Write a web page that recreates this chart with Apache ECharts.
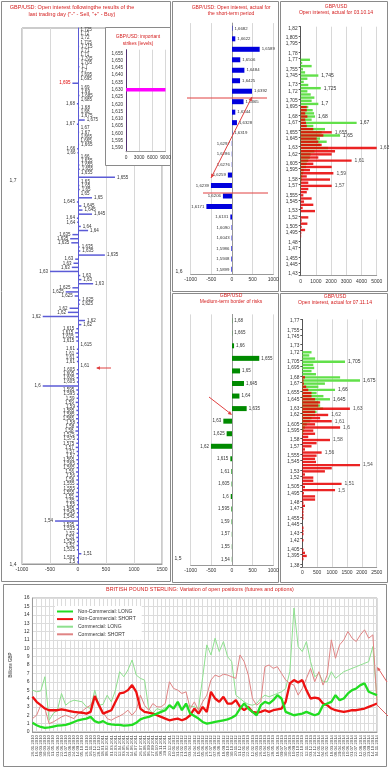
<!DOCTYPE html>
<html><head><meta charset="utf-8">
<script src="https://cdn.jsdelivr.net/npm/echarts/dist/echarts.min.js"></script>
<style>html,body{margin:0;padding:0;background:#fff}#c{width:389px;height:768px}</style>
</head><body><div id="c"></div>
<script>
// ---------- Panel 1: open interest after last trading day ----------
const p1Levels = [
'1,725','1,72','1,72','1,715','1,715','1,71','1,71','1,705','1,705','1,7',
'1,7','1,695','1,695','1,695','1,69','1,69','1,685','1,685','1,68','1,68',
'1,68','1,675','1,675','1,67','1,67','1,67','1,665','1,665','1,665','1,66',
'1,66','1,66','1,655','1,655','1,655','1,655','1,655','1,65','1,65','1,65',
'1,65','1,65','1,645','1,645','1,645','1,645','1,64','1,64','1,64','1,64',
'1,635','1,635','1,635','1,635','1,635','1,635','1,63','1,63','1,63','1,63',
'1,63','1,63','1,63','1,625','1,625','1,625','1,625','1,625','1,62','1,62',
'1,62','1,62','1,62','1,615','1,615','1,615','1,615','1,615','1,61','1,61',
'1,61','1,61','1,61','1,605','1,605','1,605','1,605','1,6','1,595','1,595',
'1,59','1,59','1,59','1,585','1,585','1,585','1,58','1,58','1,58','1,575',
'1,575','1,575','1,57','1,57','1,57','1,565','1,565','1,565','1,56','1,56',
'1,56','1,555','1,555','1,555','1,55','1,55','1,55','1,545','1,545','1,545',
'1,54','1,535','1,535','1,53','1,53','1,525','1,52','1,515','1,51','1,505',
'1,5'];
const p1Values = [
10,10,15,10,20,15,10,20,15,25,
20,15,10,-100,15,20,25,15,-20,20,
15,20,120,-20,15,20,15,10,20,-15,
-10,15,20,25,30,20,660,20,25,30,
15,250,-20,60,80,250,-20,-15,50,180,
-100,-140,-120,30,40,480,-50,-80,-110,-500,
40,60,270,-100,-220,-60,40,30,-150,-180,
-630,125,60,-30,-50,-40,-30,10,-20,-30,
-25,-20,10,-20,-30,-25,-20,-630,-30,-20,
-25,-40,-20,-30,-25,-35,-20,-30,-45,-25,
-20,-30,-40,-25,-20,-30,-20,-25,-35,-20,
-30,-25,-20,-30,-40,-25,-20,-30,-20,-25,
-410,-30,-20,-25,-30,-20,-25,-20,60,-20,
-15];
const p1RedLabelIdx = [13];
const p1SideLabels = ['1,7','1,4'];

// ---------- Inset: important strikes ----------
const insetLevels = ['1,655','1,650','1,645','1,640','1,635','1,630','1,625','1,620','1,615','1,610','1,605','1,600','1,595','1,590'];
const insetValues = [0,0,0,0,0,9000,0,0,0,0,0,0,0,0];

// ---------- Panel 2: short-term ----------
const p2Levels = ['1,6682','1,6622','1,6589','1,6506','1,6484','1,6425','1,6392','1,6365','1,6344','1,6328','1,6319','1,6297','1,6286','1,6276','1,6259','1,6239','1,6206','1,6171','1,6131','1,6090','1,6043','1,5986','1,5948','1,5899'];
const p2Values = [10,80,670,200,300,195,485,280,80,120,5,-5,-5,-5,-100,-510,-220,-620,-40,-10,-10,-15,-15,-15];

// ---------- Panel 3: open interest 03.10.14 ----------
const p3Levels = [
'1,82','1,815','1,81','1,805','1,8','1,795','1,79','1,785','1,78','1,775',
'1,77','1,765','1,76','1,755','1,75','1,745','1,74','1,735','1,73','1,725',
'1,72','1,715','1,71','1,705','1,7','1,695','1,69','1,685','1,68','1,675',
'1,67','1,665','1,66','1,655','1,65','1,645','1,64','1,635','1,63','1,625',
'1,62','1,615','1,61','1,605','1,6','1,595','1,59','1,585','1,58','1,575',
'1,57','1,565','1,56','1,555','1,55','1,545','1,54','1,535','1,53','1,525',
'1,52','1,515','1,51','1,505','1,5','1,495','1,49','1,485','1,48','1,475',
'1,47','1,465','1,46','1,455','1,45','1,445','1,44','1,435','1,43'];
const p3Calls = [
0,0,0,0,0,0,0,0,0,0,
610,100,720,150,290,1160,440,200,500,1320,
440,660,900,720,1160,500,790,880,940,720,
3680,830,1600,1380,2590,1270,1710,1270,1800,900,
650,600,500,400,350,200,150,100,80,40,
30,20,0,0,0,0,0,0,0,0,
0,0,0,0,0,0,0,0,0,0,
0,0,0,0,0,0,0,0,0];
const p3Puts = [
0,0,0,0,0,0,0,0,0,0,
0,0,0,0,0,0,0,0,0,0,
0,0,0,0,0,400,400,300,440,300,
350,400,830,2040,1490,1050,1160,1380,5000,2260,
2040,1160,3350,830,2040,610,2150,400,1930,500,
2040,500,400,175,720,220,830,130,940,0,
500,65,440,65,290,40,30,0,0,0,
0,0,0,0,0,0,0,0,0];
const p3Ticks = ['1,82','1,805','1,795','1,78','1,77','1,755','1,745','1,73','1,72','1,705','1,695','1,68','1,67','1,655','1,645','1,63','1,62','1,605','1,595','1,58','1,57','1,555','1,545','1,53','1,52','1,505','1,495','1,48','1,47','1,455','1,445','1,43'];
const p3CallLabels = ['1,745','1,725','1,7','1,68','1,67','1,65'];
const p3PutLabels = ['1,655','1,63','1,61','1,59','1,57'];

// ---------- Panel 5: medium-term border of risks ----------
const p5Levels = ['1,68','1,665','1,66','1,655','1,65','1,645','1,64','1,635','1,63','1,625','1,62','1,615','1,61','1,605','1,6','1,595','1,59','1,57','1,55','1,54'];
const p5Values = [5,5,50,660,195,290,180,355,-210,-130,-510,-40,-15,-10,-30,-15,-10,-5,-5,-5];

// ---------- Panel 4: open interest 07.11.14 ----------
const p4Levels = [
'1,77','1,765','1,76','1,755','1,75','1,745','1,74','1,735','1,73','1,725',
'1,72','1,715','1,71','1,705','1,7','1,695','1,69','1,685','1,68','1,675',
'1,67','1,665','1,66','1,655','1,65','1,645','1,64','1,635','1,63','1,625',
'1,62','1,615','1,61','1,605','1,6','1,595','1,59','1,585','1,58','1,575',
'1,57','1,565','1,56','1,555','1,55','1,545','1,54','1,535','1,53','1,525',
'1,52','1,515','1,51','1,505','1,5','1,495','1,49','1,485','1,48','1,475',
'1,47','1,465','1,46','1,455','1,45','1,445','1,44','1,435','1,43','1,425',
'1,42','1,415','1,41','1,405','1,4','1,395','1,39','1,385','1,38'];
const p4Calls = [
0,0,0,0,0,0,0,0,0,0,
310,235,430,1435,370,400,310,460,1270,1940,
760,540,1100,480,710,930,540,600,700,480,
430,310,260,150,90,60,30,0,0,0,
0,0,0,0,0,0,0,0,0,0,
0,0,0,0,0,0,0,0,0,0,
0,0,0,0,0,0,0,0,0,0,
0,0,0,0,0,0,0,0,0];
const p4Puts = [
0,0,0,0,0,0,0,0,0,0,
0,0,0,0,0,0,0,0,90,40,
55,130,200,310,310,430,600,540,1600,430,
870,600,990,430,1270,370,430,200,930,480,
310,90,650,480,430,460,1940,990,760,90,
370,370,1320,90,1100,55,430,430,40,90,
40,40,40,40,0,0,40,40,40,0,
40,0,0,40,90,150,40,0,0];
const p4Ticks = ['1,77','1,755','1,745','1,73','1,72','1,705','1,695','1,68','1,67','1,655','1,645','1,63','1,62','1,605','1,595','1,58','1,57','1,555','1,545','1,53','1,52','1,505','1,495','1,48','1,47','1,455','1,445','1,43','1,42','1,405','1,395','1,38'];
const p4CallLabels = ['1,705','1,675','1,66','1,645'];
const p4PutLabels = ['1,63','1,62','1,61','1,6','1,58','1,56','1,54','1,51','1,5'];

// ---------- Bottom: COT positions ----------
const cotDates = [
'26.01.2010','16.02.2010','09.03.2010','30.03.2010','20.04.2010','11.05.2010','01.06.2010','22.06.2010','13.07.2010','03.08.2010',
'24.08.2010','14.09.2010','05.10.2010','26.10.2010','16.11.2010','07.12.2010','28.12.2010','18.01.2011','08.02.2011','01.03.2011',
'22.03.2011','12.04.2011','03.05.2011','24.05.2011','14.06.2011','05.07.2011','26.07.2011','16.08.2011','06.09.2011','27.09.2011',
'18.10.2011','08.11.2011','29.11.2011','20.12.2011','10.01.2012','31.01.2012','21.02.2012','13.03.2012','03.04.2012','24.04.2012',
'15.05.2012','05.06.2012','26.06.2012','17.07.2012','07.08.2012','28.08.2012','18.09.2012','09.10.2012','30.10.2012','20.11.2012',
'11.12.2012','01.01.2013','22.01.2013','12.02.2013','05.03.2013','26.03.2013','16.04.2013','07.05.2013','28.05.2013','18.06.2013',
'09.07.2013','30.07.2013','20.08.2013','10.09.2013','01.10.2013','22.10.2013','12.11.2013','03.12.2013','24.12.2013','14.01.2014',
'04.02.2014','25.02.2014','18.03.2014','08.04.2014','29.04.2014','20.05.2014','10.06.2014','01.07.2014','22.07.2014','12.08.2014',
'02.09.2014','23.09.2014','14.10.2014','04.11.2014'];
const ncLong = [
1.1,0.8,0.6,0.5,0.55,0.65,0.75,0.8,0.85,1.0,
1.2,1.4,1.5,1.6,1.8,1.3,1.1,1.3,1.0,0.9,
0.85,0.85,0.75,0.8,0.85,1.1,1.5,1.7,1.8,2.0,
2.2,2.4,2.6,3.2,2.8,3.6,2.6,3.4,2.2,1.9,
1.6,1.2,1.0,1.1,1.2,1.3,1.4,1.5,1.7,2.0,
2.8,3.4,2.8,2.4,2.0,3.2,3.6,3.4,3.8,4.4,
4.0,2.4,2.2,2.0,2.1,2.2,2.4,2.2,2.0,2.2,
3.2,3.4,3.6,4.4,3.8,4.0,4.6,5.0,5.2,5.6,
5.8,4.8,4.6,4.4];
const ncShort = [
4.2,3.6,3.2,2.8,2.6,2.6,2.6,2.7,2.6,2.5,
2.4,2.35,2.3,2.2,2.4,4.3,3.2,2.2,2.4,2.6,
3.6,4.6,4.7,5.0,5.6,4.8,2.8,2.4,2.3,2.2,
2.0,1.8,1.6,1.4,1.5,1.6,1.4,1.6,2.0,2.8,
2.2,3.0,2.4,4.8,4.0,3.6,4.2,3.4,3.4,3.8,
3.0,2.6,3.0,2.4,2.3,2.4,2.6,2.4,2.6,2.7,
2.8,3.6,5.8,6.2,5.9,6.2,5.0,4.0,4.1,4.0,
3.4,3.2,2.8,2.6,2.5,2.4,2.5,2.6,2.6,2.7,
2.8,3.0,3.2,3.4];
const cLong = [
5.0,4.8,4.9,6.6,1.4,2.2,2.6,4.6,3.2,3.6,
3.8,3.7,3.6,3.0,2.8,5.0,3.2,3.3,4.4,3.6,
5.0,7.2,6.6,7.4,8.6,6.8,6.4,6.2,2.8,2.2,
2.8,2.6,2.9,3.0,2.9,3.2,2.8,3.1,3.1,3.0,
2.8,6.5,10.4,9.2,11.2,9.6,10.8,9.0,8.4,4.4,
4.0,3.6,3.3,3.2,3.4,4.0,4.4,4.2,4.4,4.6,
4.8,5.2,7.2,14.8,10.2,9.6,10.8,8.4,6.6,7.0,
6.0,6.0,7.2,6.4,6.8,7.2,7.4,7.6,7.8,8.0,
8.2,8.4,10.2,3.8];
const cShort = [
1.6,2.0,3.2,2.8,1.0,1.2,1.5,1.8,2.0,1.8,
1.6,2.2,2.5,2.9,3.2,4.0,3.4,2.4,1.6,1.4,
1.7,1.9,2.2,2.6,2.0,2.6,4.4,3.2,2.6,3.4,
3.0,3.0,3.4,6.0,5.2,5.0,4.6,4.8,2.8,3.6,
2.6,3.6,4.4,6.2,6.8,6.6,6.9,6.8,6.6,6.4,
9.2,8.4,6.8,4.0,3.2,3.6,7.8,8.0,7.6,7.8,
7.0,6.2,5.8,5.6,4.4,5.2,6.4,7.6,6.0,7.2,
5.6,6.8,11.0,8.8,10.4,11.0,12.0,11.2,10.8,11.6,
12.2,11.2,11.6,3.4];

// ---------- build ----------
const FONT = 'Liberation Sans, Arial, sans-serif';
const RED = '#d42020';
const numFmt = v => String(v);

function signedBars(values, labels, fs, redIdx) {
  return values.map((v, i) => ({
    value: v,
    label: { show: true, position: v < 0 ? 'left' : 'right', formatter: labels[i], fontSize: fs,
             color: (redIdx && redIdx.includes(i)) ? '#e00000' : '#333', distance: 2 }
  }));
}
function pickBars(values, levels, set, fs) {
  return values.map((v, i) => ({
    value: v,
    label: { show: set.includes(levels[i]), position: 'right', formatter: levels[i], fontSize: fs, color: '#333', distance: 3 }
  }));
}
function valueX(grid, min, max, interval, extra) {
  return Object.assign({
    type: 'value', gridIndex: grid, min, max, interval,
    axisLabel: { fontSize: 5, color: '#333', formatter: numFmt, margin: 3 },
    axisLine: { show: true, lineStyle: { color: '#999' } },
    axisTick: { show: false },
    splitLine: { show: true, lineStyle: { color: '#d8d8d8', width: 1 } }
  }, extra || {});
}
function hiddenCat(grid, data, color) {
  return {
    type: 'category', gridIndex: grid, data, inverse: true,
    axisLabel: { show: false }, axisTick: { show: false },
    axisLine: { show: true, onZero: true, lineStyle: { color } }
  };
}
function tickCat(grid, data, ticks) {
  const f = (i, v) => ticks.includes(v);
  return {
    type: 'category', gridIndex: grid, data, inverse: true,
    axisLabel: { fontSize: 4.8, color: '#333', interval: f, margin: 3 },
    axisTick: { show: true, interval: f, length: 2, lineStyle: { color: '#555' } },
    axisLine: { show: true, lineStyle: { color: '#555' } }
  };
}

const p1Idx = p1Values.map((v, i) => String(i));

function txt(x, y, text, fs, fill, align, z) {
  return { type: 'text', x, y, z: z || 6,
    style: { text, fontSize: fs, fontFamily: FONT, fill: fill || '#333', align: align || 'center', verticalAlign: 'middle', lineHeight: fs * 1.35 } };
}
function frame(x, y, w, h, fill, z) {
  return { type: 'rect', z: z || 0, shape: { x: x + 0.5, y: y + 0.5, width: w, height: h },
    style: { fill: fill || 'none', stroke: '#8a8a8a', lineWidth: 1 } };
}
function seg(x1, y1, x2, y2, color, w) {
  return { type: 'line', z: 10, shape: { x1, y1, x2, y2 }, style: { stroke: color, lineWidth: w || 1 } };
}
function head(x1, y1, x2, y2, color, h) {
  const a = Math.atan2(y2 - y1, x2 - x1);
  const bx = x2 - h * Math.cos(a), by = y2 - h * Math.sin(a);
  const ox = h * 0.45 * Math.sin(a), oy = -h * 0.45 * Math.cos(a);
  return { type: 'polygon', z: 10, shape: { points: [[x2, y2], [bx + ox, by + oy], [bx - ox, by - oy]] }, style: { fill: color } };
}

const graphics = [
  frame(1, 1, 169, 580), frame(172, 1, 106, 290), frame(280, 1, 107, 290),
  frame(172, 293, 106, 289), frame(280, 293, 107, 289), frame(3, 584, 383, 182),
  frame(105, 27, 65, 138, '#fff', 1),
  txt(72, 11, 'GBP/USD: Open interest followingthe results of the\nlast trading day ("-" - Sell, "+" - Buy)', 5.5, RED),
  txt(138, 40, 'GBP/USD: important\nstrikes (levels)', 4.8, RED, 'center', 7),
  txt(231, 10.5, 'GBP/USD: Open interest, actual for\nthe short-term period', 5, RED),
  txt(336, 9.5, 'GBP/USD\nOpen interest, actual for 03.10.14', 5, RED),
  txt(231, 298.5, 'GBP/USD\nMedium-term border of risks', 5, RED),
  txt(335, 299.5, 'GBP/USD\nOpen interest, actual for 07.11.14', 5, RED),
  txt(200, 590, 'BRITISH POUND STERLING: Variation of open positions (futures and options)', 5.4, RED),
  txt(13, 181, p1SideLabels[0], 5), txt(13, 565, p1SideLabels[1], 5),
  txt(179, 272, '1,6', 5), txt(178, 559, '1,5', 5),
  seg(187, 98, 267, 98, '#e04040'), seg(203, 193, 268, 193, '#e04040'),
  seg(211, 178, 252, 97, '#e04040'), head(211, 178, 252, 97, '#e04040', 4), head(252, 97, 211, 178, '#e04040', 4),
  seg(111, 368, 97, 368, '#e04040'), head(111, 368, 96, 368, '#e04040', 4),
  seg(209, 397, 231, 414, '#e04040'), head(209, 397, 232, 415, '#e04040', 4),
  seg(387, 682, 378, 668, '#e06060'), head(387, 682, 377, 667, '#e06060', 4),
  seg(377, 705, 388, 716, '#e06060')
];

const option = {
  animation: false,
  textStyle: { fontFamily: FONT },
  grid: [
    { left: 22, top: 28, width: 140, height: 536, show: true, borderColor: '#999', borderWidth: 1 },
    { left: 126, top: 49.7, width: 39.5, height: 102 },
    { left: 190.7, top: 23.1, width: 82.6, height: 251.5 },
    { left: 300.7, top: 26.7, width: 76, height: 249 },
    { left: 190.7, top: 314.4, width: 82.6, height: 251.2 },
    { left: 302.3, top: 319.4, width: 74.4, height: 247.5 },
    { left: 27, top: 598, width: 350, height: 134, show: true, borderColor: '#aaa', borderWidth: 1 }
  ],
  xAxis: [
    valueX(0, -1000, 1500, 500),
    valueX(1, 0, 9000, 3000, { z: 3, axisLabel: { fontSize: 4.8, color: '#333', formatter: numFmt, margin: 3 } }),
    valueX(2, -1000, 1000, 500),
    valueX(3, 0, 5000, 1000),
    valueX(4, -1000, 1000, 500),
    valueX(5, 0, 2500, 500),
    { type: 'category', gridIndex: 6, data: cotDates, boundaryGap: false,
      axisLabel: { rotate: 90, fontSize: 4.3, color: '#444', interval: 0, margin: 3 },
      axisTick: { show: false }, axisLine: { lineStyle: { color: '#999' } },
      splitLine: { show: true, interval: 0, lineStyle: { color: '#dcdcdc' } } }
  ],
  yAxis: [
    hiddenCat(0, p1Idx, '#5b5bd6'),
    { type: 'category', gridIndex: 1, data: insetLevels, inverse: true, z: 3,
      axisLabel: { fontSize: 4.6, color: '#333', interval: 0, margin: 3 },
      axisTick: { show: false }, axisLine: { lineStyle: { color: '#503070' } } },
    hiddenCat(2, p2Levels, '#999'),
    tickCat(3, p3Levels, p3Ticks),
    hiddenCat(4, p5Levels, '#999'),
    tickCat(5, p4Levels, p4Ticks),
    { type: 'value', gridIndex: 6, min: 0, max: 16, interval: 1,
      name: 'Billions GBP', nameLocation: 'middle', nameGap: 13, nameRotate: 90,
      nameTextStyle: { fontSize: 4.5, color: '#333' },
      axisLabel: { fontSize: 5, color: '#333', margin: 3 },
      axisLine: { show: true, lineStyle: { color: '#999' } }, axisTick: { show: false },
      splitLine: { lineStyle: { color: '#dcdcdc' } } }
  ],
  legend: {
    orient: 'vertical', left: 55, top: 606, itemWidth: 16, itemHeight: 2, itemGap: 2.6,
    padding: [3, 6, 3, 2], backgroundColor: '#fff', icon: 'rect', selectedMode: false,
    textStyle: { fontSize: 5, color: '#333' },
    data: ['Non-Commercial: LONG', 'Non-Commercial: SHORT', 'Commercial: LONG', 'Commercial: SHORT']
  },
  graphic: graphics,
  series: [
    { type: 'bar', xAxisIndex: 0, yAxisIndex: 0, barWidth: 1.5, itemStyle: { color: '#5b5bd6' },
      data: signedBars(p1Values, p1Levels, 4.5, p1RedLabelIdx) },
    { type: 'bar', xAxisIndex: 1, yAxisIndex: 1, barWidth: 3.3, z: 4, itemStyle: { color: '#ff00ff' }, data: insetValues },
    { type: 'bar', xAxisIndex: 2, yAxisIndex: 2, barWidth: 5, itemStyle: { color: '#0000dd' },
      data: signedBars(p2Values, p2Levels, 4.3) },
    { type: 'bar', xAxisIndex: 3, yAxisIndex: 3, barWidth: 2.4, barGap: '-100%', itemStyle: { color: '#62e04a' },
      data: pickBars(p3Calls, p3Levels, p3CallLabels, 5) },
    { type: 'bar', xAxisIndex: 3, yAxisIndex: 3, barWidth: 2.4, barGap: '-100%', itemStyle: { color: '#e80000', opacity: 0.86 },
      data: pickBars(p3Puts, p3Levels, p3PutLabels, 5) },
    { type: 'bar', xAxisIndex: 4, yAxisIndex: 4, barWidth: 5, itemStyle: { color: '#008a00' },
      data: signedBars(p5Values, p5Levels, 4.5) },
    { type: 'bar', xAxisIndex: 5, yAxisIndex: 5, barWidth: 2.4, barGap: '-100%', itemStyle: { color: '#62e04a' },
      data: pickBars(p4Calls, p4Levels, p4CallLabels, 5) },
    { type: 'bar', xAxisIndex: 5, yAxisIndex: 5, barWidth: 2.4, barGap: '-100%', itemStyle: { color: '#e80000', opacity: 0.86 },
      data: pickBars(p4Puts, p4Levels, p4PutLabels, 5) },
    { type: 'line', name: 'Commercial: LONG', xAxisIndex: 6, yAxisIndex: 6, showSymbol: false,
      lineStyle: { width: 1, color: '#8ee08e' }, itemStyle: { color: '#8ee08e' }, data: cLong },
    { type: 'line', name: 'Commercial: SHORT', xAxisIndex: 6, yAxisIndex: 6, showSymbol: false,
      lineStyle: { width: 1, color: '#e08484' }, itemStyle: { color: '#e08484' }, data: cShort },
    { type: 'line', name: 'Non-Commercial: SHORT', xAxisIndex: 6, yAxisIndex: 6, showSymbol: false,
      lineStyle: { width: 2.3, color: '#ee1111' }, itemStyle: { color: '#ee1111' }, data: ncShort },
    { type: 'line', name: 'Non-Commercial: LONG', xAxisIndex: 6, yAxisIndex: 6, showSymbol: false,
      lineStyle: { width: 2.3, color: '#22dd22' }, itemStyle: { color: '#22dd22' }, data: ncLong }
  ]
};

const chart = echarts.init(document.getElementById('c'), null, { renderer: 'canvas', width: 389, height: 768 });
chart.setOption(option);
</script></body></html>
